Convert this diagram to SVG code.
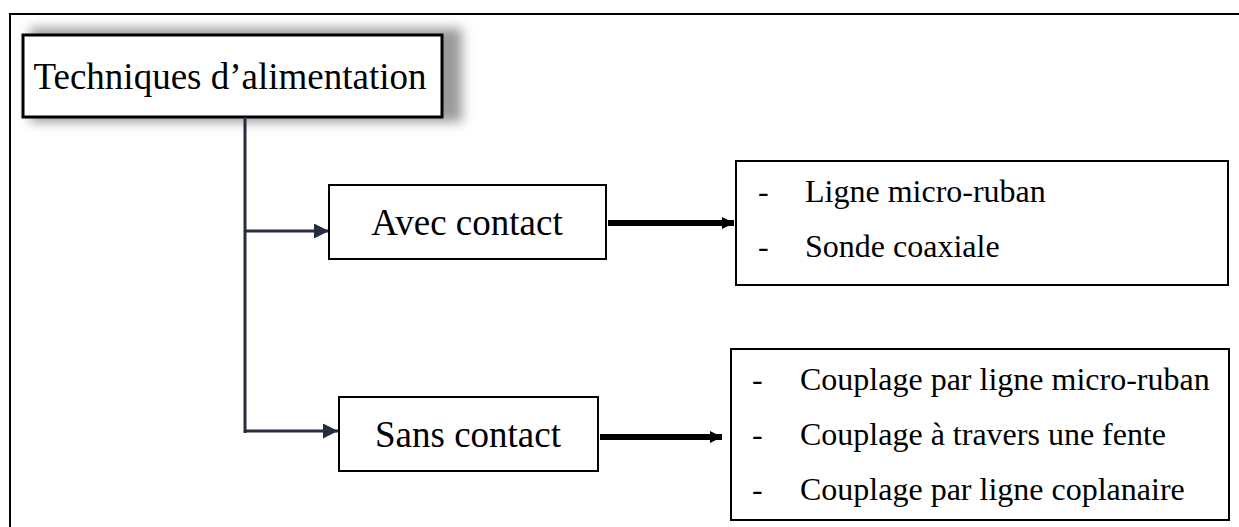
<svg xmlns="http://www.w3.org/2000/svg" width="1239" height="527" viewBox="0 0 1239 527">
<style>
.t{font-family:"Liberation Serif","Times New Roman",serif;fill:#000}
.big{font-size:37px}
.li{font-size:32px}
.box{fill:#fff;stroke:#000;stroke-width:2}
.nav{stroke:#262d3c;stroke-width:3;fill:none}
.thick{stroke:#000;stroke-width:6;fill:none}
</style>
<defs>
<filter id="sh" x="-20%" y="-50%" width="140%" height="200%"><feGaussianBlur stdDeviation="6"/></filter>
<marker id="an" viewBox="0 0 10 10" refX="10" refY="5" markerWidth="5" markerHeight="5" markerUnits="strokeWidth" orient="auto"><path d="M0,0L10,5L0,10z" fill="#262d3c"/></marker>
<marker id="ab" viewBox="0 0 10 10" refX="10" refY="5" markerWidth="2" markerHeight="2" markerUnits="strokeWidth" orient="auto"><path d="M0,0L10,5L0,10z" fill="#000"/></marker>
</defs>
<rect width="1239" height="527" fill="#fff"/>
<path d="M10,527V14H1239" fill="none" stroke="#000" stroke-width="2"/>
<g id="techniques">
<rect x="30" y="28" width="432" height="94" fill="#9a9a9a" filter="url(#sh)"/>
<rect x="23" y="35" width="419" height="82" fill="#fff" stroke="#000" stroke-width="3"/>
<text class="t big" x="230" y="89" text-anchor="middle">Techniques d’alimentation</text>
</g>
<g id="connectors">
<path class="nav" d="M245,117V433"/>
<path class="nav" d="M245,231H329" marker-end="url(#an)"/>
<path class="nav" d="M245,431H338" marker-end="url(#an)"/>
<path class="thick" d="M608,223H734" marker-end="url(#ab)"/>
<path class="thick" d="M600,437H722" marker-end="url(#ab)"/>
</g>
<g id="avec">
<rect class="box" x="329" y="185" width="277" height="74"/>
<text class="t big" x="467" y="235" text-anchor="middle">Avec contact</text>
</g>
<g id="sans">
<rect class="box" x="339" y="397" width="259" height="74"/>
<text class="t big" x="468" y="447" text-anchor="middle">Sans contact</text>
</g>
<g id="list1">
<rect class="box" x="736" y="161" width="492" height="124"/>
<text class="t li" x="758" y="202">-</text>
<text class="t li" x="805" y="202">Ligne micro-ruban</text>
<text class="t li" x="758" y="257">-</text>
<text class="t li" x="805" y="257">Sonde coaxiale</text>
</g>
<g id="list2">
<rect class="box" x="731" y="349" width="498" height="171"/>
<text class="t li" x="752" y="390">-</text>
<text class="t li" x="800" y="390">Couplage par ligne micro-ruban</text>
<text class="t li" x="752" y="445">-</text>
<text class="t li" x="800" y="445">Couplage à travers une fente</text>
<text class="t li" x="752" y="500">-</text>
<text class="t li" x="800" y="500">Couplage par ligne coplanaire</text>
</g>
</svg>
